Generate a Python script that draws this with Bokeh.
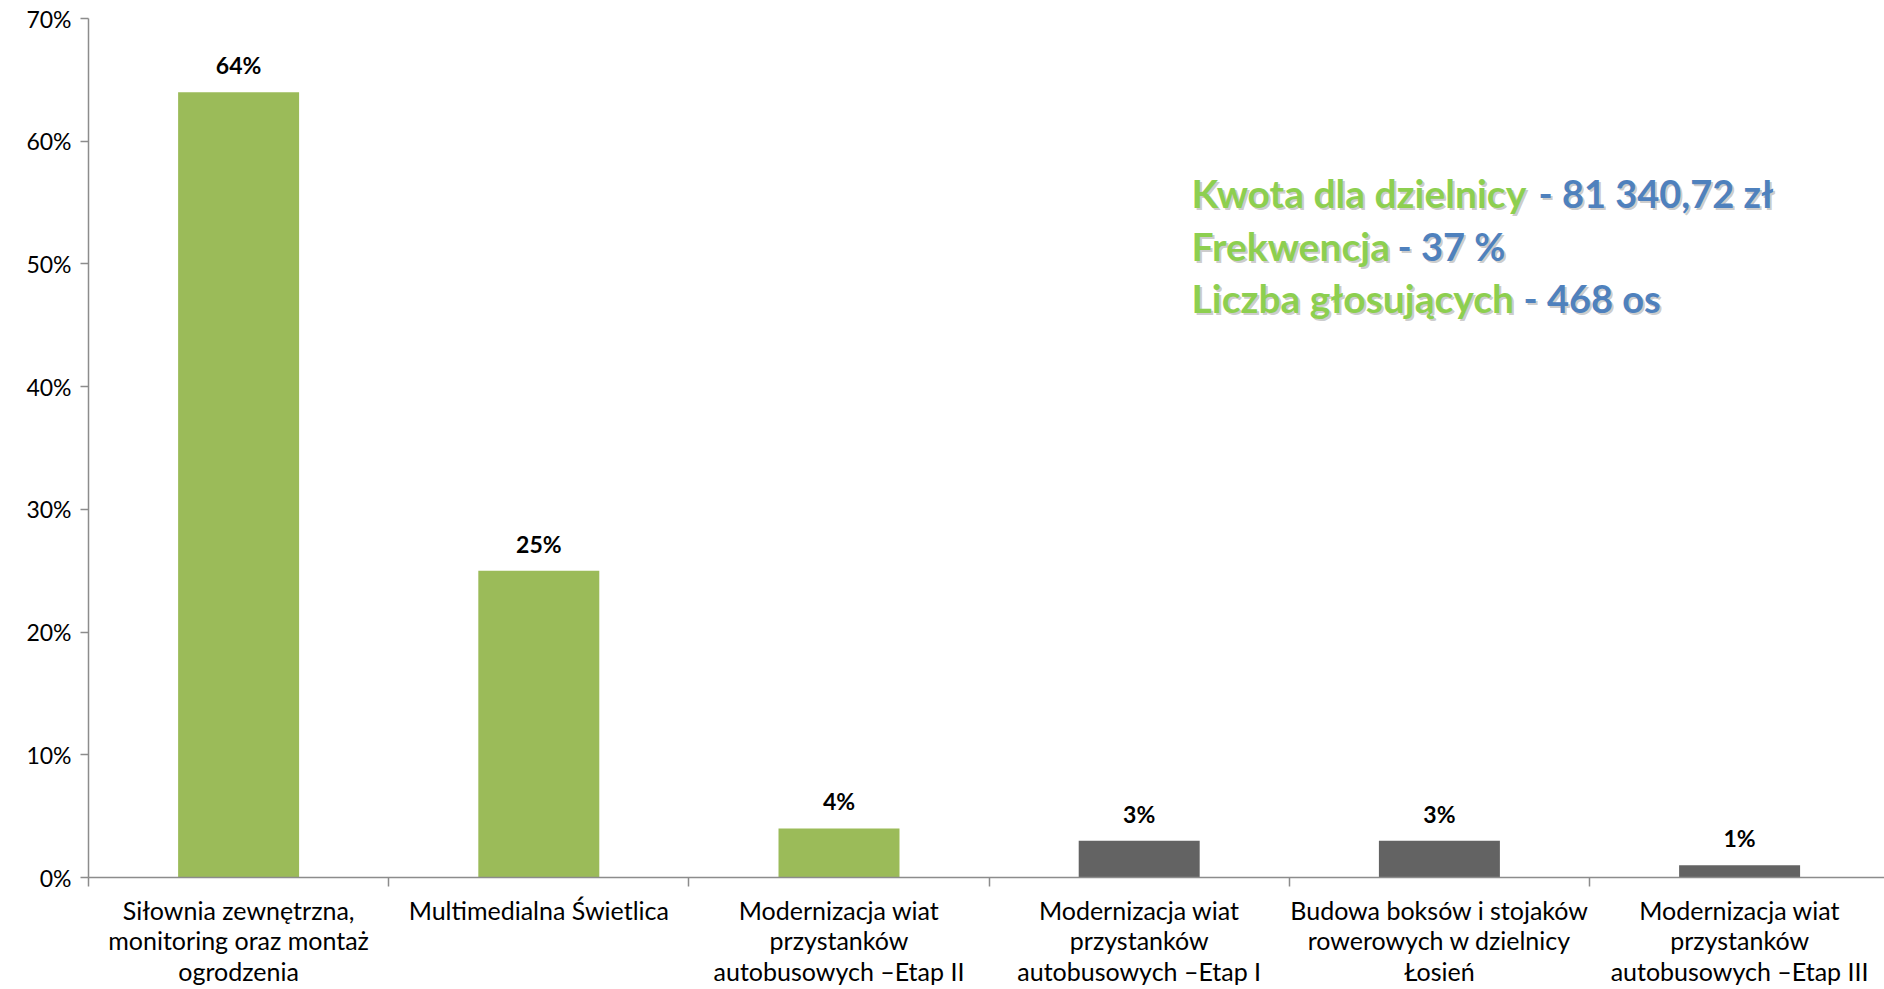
from bokeh.plotting import figure
from bokeh.models import Range1d, FixedTicker, NumeralTickFormatter
from bokeh.embed import file_html
from bokeh.resources import INLINE
from bokeh.core.properties import value

# ---------------- data ----------------
categories = [
    "Siłownia zewnętrzna,\nmonitoring oraz montaż\nogrodzenia",
    "Multimedialna Świetlica",
    "Modernizacja wiat\nprzystanków\nautobusowych –Etap II",
    "Modernizacja wiat\nprzystanków\nautobusowych –Etap I",
    "Budowa boksów i stojaków\nrowerowych w dzielnicy\nŁosień",
    "Modernizacja wiat\nprzystanków\nautobusowych –Etap III",
]
shares = [0.64, 0.25, 0.04, 0.03, 0.03, 0.01]
bar_colors = ["#9BBB59", "#9BBB59", "#9BBB59", "#636363", "#636363", "#636363"]
y_ticks = [0.0, 0.1, 0.2, 0.3, 0.4, 0.5, 0.6, 0.7]

info_names = ["Kwota dla dzielnicy", "Frekwencja", "Liczba głosujących"]
info_values = ["- 81 340,72 zł", "- 37 %", "- 468 os"]

# ---------------- layout helpers ----------------
W, H = 1884, 989
LEFT, TOP, BOTTOM = 88, 18, 112
CAT_PX = 300.2           # pixel width of one category
FRAME_W = W - LEFT
Y0_PAGE = H - BOTTOM     # page y of 0 %
Y70_PAGE = TOP           # page y of 70 %


def px_x(page_x):
    return (page_x - LEFT) / CAT_PX


def px_y(page_y):
    return (Y0_PAGE - page_y) * 0.7 / (Y0_PAGE - Y70_PAGE)


xs = [i + 0.5 for i in range(len(categories))]
labels = [f"{round(v * 100)}%" for v in shares]

p = figure(
    width=W, height=H,
    x_range=Range1d(0, FRAME_W / CAT_PX), y_range=Range1d(0, 0.7),
    output_backend="svg", toolbar_location=None,
    min_border_left=LEFT, min_border_right=0,
    min_border_top=TOP, min_border_bottom=BOTTOM,
)
p.outline_line_color = None
p.xgrid.visible = False
p.ygrid.visible = False
p.background_fill_color = "white"
p.border_fill_color = "white"

p.vbar(x=xs, top=shares, width=0.403, color=bar_colors, line_color=None)

p.text(x=xs, y=shares, text=labels, y_offset=-27,
       text_align="center", text_baseline="middle",
       text_font=value("Lato"), text_font_style="bold",
       text_font_size="23px", text_color="#000000")

# info text block
info_rows_y = [192, 245, 297]
name_x = 1191
value_x = [1538, 1397, 1523]
for name, val, ry, vx in zip(info_names, info_values, info_rows_y, value_x):
    for dx, col, alpha in [(2, "#7a7a7a", 0.4), (0, None, 1.0)]:
        p.text(x=[px_x(name_x)], y=[px_y(ry)], text=[name], x_offset=dx, y_offset=dx,
               text_align="left", text_baseline="middle",
               text_font=value("Lato"), text_font_style="bold", text_font_size="39px",
               text_color=col or "#8DCF50", text_alpha=alpha)
        p.text(x=[px_x(vx)], y=[px_y(ry)], text=[val], x_offset=dx, y_offset=dx,
               text_align="left", text_baseline="middle",
               text_font=value("Lato"), text_font_style="bold", text_font_size="38px",
               text_color=col or "#4F81BD", text_alpha=alpha)

axis_col = "#8C8C8C"

# x axis
xa = p.xaxis[0]
xa.ticker = FixedTicker(ticks=xs, minor_ticks=list(range(len(categories) + 1)))
xa.major_label_overrides = {x: c for x, c in zip(xs, categories)}
xa.major_tick_line_color = None
xa.major_tick_in = 0
xa.major_tick_out = 0
xa.minor_tick_in = 0
xa.minor_tick_out = 9
xa.minor_tick_line_color = axis_col
xa.minor_tick_line_width = 1.5
xa.axis_line_color = axis_col
xa.axis_line_width = 1.5
xa.major_label_standoff = 8
xa.major_label_text_font = "Lato"
xa.major_label_text_font_size = "25px"
xa.major_label_text_color = "#000000"
xa.major_label_text_line_height = 1.02

# y axis
ya = p.yaxis[0]
ya.ticker = FixedTicker(ticks=y_ticks, minor_ticks=[])
ya.formatter = NumeralTickFormatter(format="0%")
ya.major_tick_in = 0
ya.major_tick_out = 8
ya.major_tick_line_color = axis_col
ya.major_tick_line_width = 1.5
ya.axis_line_color = axis_col
ya.axis_line_width = 1.5
ya.major_label_standoff = 9
ya.major_label_text_font = "Lato"
ya.major_label_text_font_size = "23px"
ya.major_label_text_color = "#000000"

open("out.html", "w").write(file_html(p, INLINE))
